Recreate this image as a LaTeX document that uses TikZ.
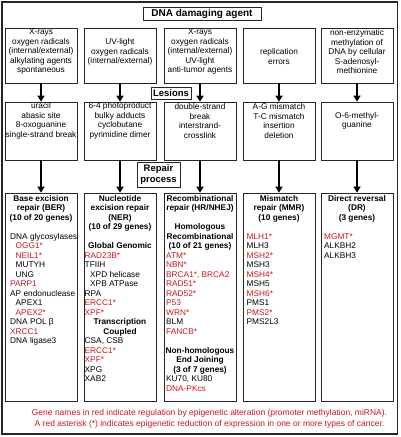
\documentclass[tikz,border=0pt]{standalone}
\usepackage{fontspec}
\setmainfont{Liberation Sans}
\usetikzlibrary{arrows.meta}
\definecolor{genered}{RGB}{200,22,32}
\tikzset{
  box/.style={draw=black!85, line width=0.7pt, minimum width=72pt, inner sep=0pt},
  headbox/.style={draw=black!85, line width=1pt, inner sep=0pt, align=center, font=\fontsize{9.5}{10.5}\selectfont\bfseries},
  txt/.style={align=center, inner sep=0pt, font=\fontsize{8.3}{9.5}\selectfont},
  head/.style={align=center, anchor=base, inner sep=0pt, font=\fontsize{8.3}{9.5}\selectfont\bfseries},
  list/.style={align=left, anchor=base west, inner sep=0pt, font=\fontsize{8.3}{9.5}\selectfont},
  arr/.style={-{Triangle[width=7pt,length=6pt]}, line width=1.5pt},
}
\newcommand{\rd}[1]{\textcolor{genered}{#1}}
\newcommand{\ind}{\hspace*{5.5pt}}
\begin{document}
\begin{tikzpicture}[x=1pt,y=-1pt]
\useasboundingbox (0,0) rectangle (400,437);
\draw[line width=1.2pt, black!85] (2,2) rectangle (397.5,434);
\node[headbox, minimum width=118pt, minimum height=13pt, font=\fontsize{10}{11}\selectfont\bfseries] (dmg) at (202,13.5) {DNA damaging agent};
\node[headbox, minimum width=40pt, minimum height=12pt] (les) at (171,93) {Lesions};
\node[headbox, minimum width=43pt, minimum height=25pt] (rep) at (158.5,174.5) {Repair\\process};
\foreach \n/\x in {1/41,2/120,3/200,4/279,5/357} {
  \node[box, minimum height=55pt] (a\n) at (\x,55.5) {};
  \node[box, minimum height=58pt] (l\n) at (\x,131) {};
  \node[box, minimum height=208.5pt] (r\n) at (\x,297.25) {};
  \draw[arr] (a\n) -- (l\n);
  \draw[arr] (l\n) -- (r\n);
}
\node[txt] (at1) at (41,52) {X-rays\\oxygen radicals\\(internal/external)\\alkylating agents\\spontaneous};
\node[txt] (at2) at (120,52) {UV-light\\oxygen radicals\\(internal/external)};
\node[txt] (at3) at (200,52) {X-rays\\oxygen radicals\\(internal/external)\\UV-light\\anti-tumor agents};
\node[txt] (at4) at (279,56.5) {replication\\errors};
\node[txt] (at5) at (357,52) {non-enzymatic\\methylation of\\DNA by cellular\\S-adenosyl-\\methionine};
\node[txt] (lt1) at (41,121) {uracil\\abasic site\\8-oxoguanine\\single-strand break};
\node[txt] (lt2) at (120,121) {6-4 photoproduct\\bulky adducts\\cyclobutane\\pyrimidine dimer};
\node[txt] (lt3) at (200,121) {double-strand\\break\\interstrand-\\crosslink};
\node[txt] (lt4) at (279,121) {A-G mismatch\\T-C mismatch\\insertion\\deletion};
\node[txt] (lt5) at (357,121) {O-6-methyl-\\guanine};
\node[head] (h1) at (41,220) {Base excision\\repair (BER)\\(10 of 20 genes)};
\node[list] (g1) at (10,343.5) {DNA glycosylases\\\ind\rd{OGG1*}\\\ind\rd{NEIL1*}\\\ind MUTYH\\\ind UNG\\\rd{PARP1}\\AP endonuclease\\\ind APEX1\\\ind\rd{APEX2*}\\DNA POL β\\\rd{XRCC1}\\DNA ligase3};
\node[head] (h2) at (120,229.5) {Nucleotide\\excision repair\\(NER)\\(10 of 29 genes)};
\node[head] (h2a) at (120,248.5) {Global Genomic};
\node[list] (g2a) at (84.5,315) {\rd{RAD23B*}\\TFIIH\\\ind XPD helicase\\\ind XPB ATPase\\RPA\\\rd{ERCC1*}\\\rd{XPF*}};
\node[head] (h2b) at (120,334) {Transcription\\Coupled};
\node[list] (g2b) at (84.5,381.5) {CSA, CSB\\\rd{ERCC1*}\\\rd{XPF*}\\XPG\\XAB2};
\node[head] (h3) at (200,210.5) {Recombinational\\repair (HR/NHEJ)};
\node[head] (h3a) at (200,248.5) {Homologous\\Recombinational\\(10 of 21 genes)};
\node[list] (g3a) at (166,334) {\rd{ATM*}\\\rd{NBN*}\\\rd{BRCA1*, BRCA2}\\\rd{RAD51*}\\\rd{RAD52*}\\\rd{P53}\\\rd{WRN*}\\BLM\\\rd{FANCB*}};
\node[head] (h3b) at (200,372) {Non-homologous\\End Joining\\(3 of 7 genes)};
\node[list] (g3b) at (166,391) {KU70, KU80\\\rd{DNA-PKcs}};
\node[head] (h4) at (279,220) {Mismatch\\repair (MMR)\\(10 genes)};
\node[list] (g4) at (246.5,324.5) {\rd{MLH1*}\\MLH3\\\rd{MSH2*}\\MSH3\\\rd{MSH4*}\\MSH5\\\rd{MSH6*}\\PMS1\\\rd{PMS2*}\\PMS2L3};
\node[head] (h5) at (357,220) {Direct reversal\\(DR)\\(3 genes)};
\node[list] (g5) at (324,258) {\rd{MGMT*}\\ALKBH2\\ALKBH3};
\node[txt, text=genered, font=\fontsize{8.5}{11}\selectfont] (note) at (209.5,418.5) {Gene names in red indicate regulation by epigenetic alteration (promoter methylation, miRNA).\\A red asterisk (*) indicates epigenetic reduction of expression in one or more types of cancer.};
\end{tikzpicture}
\end{document}
